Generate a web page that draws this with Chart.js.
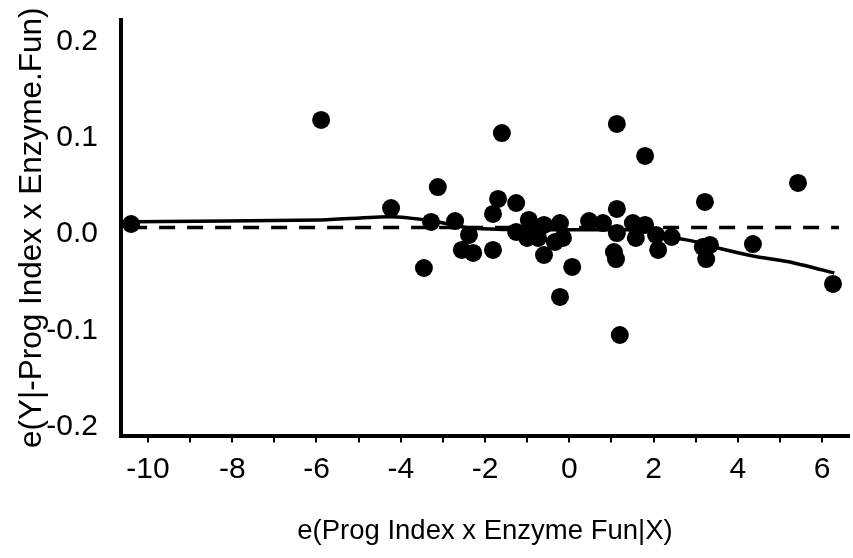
<!DOCTYPE html>
<html>
<head>
<meta charset="utf-8">
<script src="https://cdn.jsdelivr.net/npm/chart.js@4/dist/chart.umd.min.js"></script>
<style>
  body { margin: 0; background: #fff; }
  canvas { display: block; }
</style>
</head>
<body>
<canvas id="plot" width="853" height="558"></canvas>
<script>
// partial residuals: x and y of each case
const resX = [-10.40, -5.89, -4.23, -3.12, -3.28, -2.71, -2.38, -3.45, -2.55, -2.28,
  -1.81, -1.81, -1.69, -1.26, -1.60, 1.13, 1.80, -0.22, 1.20, 0.07,
  -1.26, -1.00, -0.96, -0.74, -0.60, -0.60, -0.22, -0.15, -0.34, 0.47,
  0.80, 1.13, 1.13, 1.06, 1.11, 1.58, 1.51, 1.80, 2.06, 2.11,
  2.43, 3.22, 3.17, 3.34, 3.25, 4.36, 5.43, 6.26];
const resY = [0.0106, 0.1187, 0.0272, 0.0490, 0.0127, 0.0137, -0.0008, -0.0351, -0.0164, -0.0195,
  -0.0164, 0.0210, 0.0366, 0.0324, 0.1051, 0.1145, 0.0813, -0.0652, -0.1047, -0.0340,
  0.0023, -0.0039, 0.0148, -0.0039, 0.0096, -0.0216, 0.0116, -0.0039, -0.0081, 0.0137,
  0.0116, 0.0262, 0.0012, -0.0185, -0.0258, -0.0039, 0.0116, 0.0096, -0.0008, -0.0164,
  -0.0029, 0.0335, -0.0133, -0.0112, -0.0258, -0.0102, 0.0532, -0.0517];

// smoother through the residuals
const smoothX = [-10.35, -5.92, -4.26, -3.28, -2.36, -1.41, -1.0, 0, 1.0, 1.9, 2.43, 3.03, 3.41, 4.36, 5.31, 6.29];
const smoothY = [0.0130, 0.0148, 0.0182, 0.0140, 0.0064, 0.0048, 0.0046, 0.0046, 0.0046, 0.0040, -0.0029, -0.0081, -0.0130, -0.0226, -0.0296, -0.0403];

// reference line
const refX = [-10.40, 6.40];
const refY = [0.007, 0.007];

const xTicks = [-10, -8, -6, -4, -2, 0, 2, 4, 6];
const yTicks = [-0.2, -0.1, 0.0, 0.1, 0.2];

const xTitle = 'e(Prog Index x Enzyme Fun|X)';
const yTitle = 'e(Y|-Prog Index x Enzyme.Fun)';

const pairs = (xs, ys) => xs.map((x, i) => ({ x: x, y: ys[i] }));
const font = 'Liberation Sans, Arial, sans-serif';

// keep the plot box fixed: no extra room for edge labels
function fixBox(size) {
  return s => {
    if (s.isHorizontal()) s.height = size; else s.width = size;
    s.paddingTop = 0; s.paddingBottom = 0;
    s.paddingLeft = 0; s.paddingRight = 0;
  };
}

new Chart(document.getElementById('plot'), {
  type: 'scatter',
  data: {
    datasets: [
      {
        data: pairs(refX, refY),
        showLine: true,
        borderColor: '#000',
        borderWidth: 3.5,
        borderDash: [16, 12],
        pointRadius: 0
      },
      {
        data: pairs(smoothX, smoothY),
        showLine: true,
        borderColor: '#000',
        borderWidth: 3.5,
        tension: 0.2,
        pointRadius: 0
      },
      {
        data: pairs(resX, resY),
        backgroundColor: '#000',
        borderWidth: 0,
        pointRadius: 9,
        pointHoverRadius: 9
      }
    ]
  },
  options: {
    responsive: false,
    animation: false,
    layout: { autoPadding: false, padding: { top: 20, right: 4, left: 0, bottom: 0 } },
    plugins: { legend: { display: false }, tooltip: { enabled: false } },
    scales: {
      x: {
        type: 'linear',
        min: -10.64,
        max: 6.64,
        afterFit: fixBox(122.5),
        border: { display: true, color: '#000', width: 4 },
        grid: { drawOnChartArea: false, drawTicks: true, tickLength: 7, lineWidth: 2, color: '#000' },
        ticks: {
          stepSize: 1,
          includeBounds: false,
          autoSkip: false,
          maxRotation: 0,
          padding: 9,
          color: '#000',
          font: { family: font, size: 30 },
          callback: v => xTicks.includes(Math.round(v * 1000) / 1000) ? String(Math.round(v)) : ''
        },
        title: {
          display: true,
          text: xTitle,
          color: '#000',
          font: { family: font, size: 27.5 },
          padding: { top: 0, bottom: 10 }
        }
      },
      y: {
        type: 'linear',
        min: -0.2091,
        max: 0.2225,
        afterFit: fixBox(121),
        border: { display: true, color: '#000', width: 4 },
        grid: { display: false, drawTicks: false },
        ticks: {
          stepSize: 0.1,
          includeBounds: false,
          padding: 23,
          color: '#000',
          font: { family: font, size: 30 },
          callback: v => {
            const t = yTicks.find(k => Math.abs(k - v) < 1e-6);
            return t === undefined ? '' : (Math.abs(t) < 1e-9 ? '0.0' : t.toFixed(1));
          }
        },
        title: {
          display: true,
          text: yTitle,
          color: '#000',
          font: { family: font, size: 31.5 },
          padding: { top: 13, bottom: 0 }
        }
      }
    }
  }
});
</script>
</body>
</html>
